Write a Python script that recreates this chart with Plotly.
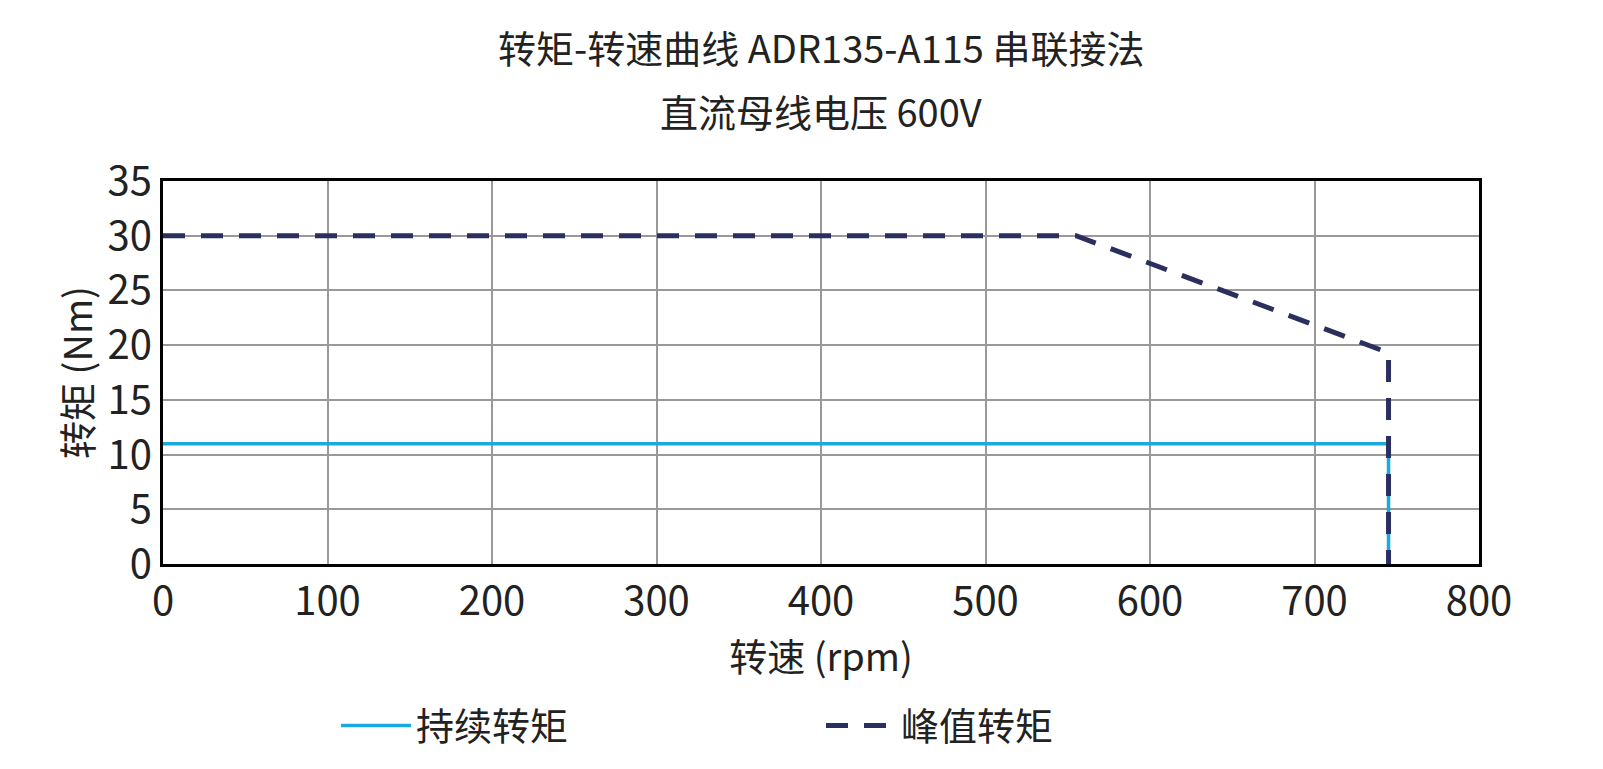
import plotly.graph_objects as go

# data
cont_speed = [0, 745, 745]
cont_torque = [11, 11, 0]
peak_speed = [0, 555, 745, 745]
peak_torque = [30, 30, 19.3, 0]
title_lines = ["转矩-转速曲线 ADR135-A115 串联接法", "直流母线电压 600V"]

FONT = "Noto Sans CJK SC"

fig = go.Figure()
fig.add_trace(go.Scatter(x=cont_speed, y=cont_torque, mode="lines", name="持续转矩",
                         line=dict(color="#1ba9e1", width=3.5)))
fig.add_trace(go.Scatter(x=peak_speed, y=peak_torque, mode="lines", name="峰值转矩",
                         line=dict(color="#2b2f5e", width=5, dash="22px,16px")))

# two title lines as annotations (reference has wide line spacing)
for i, t in enumerate(title_lines):
    fig.add_annotation(text=t, xref="paper", yref="paper", x=0.5, y=1 + (135 - 65 * i) / 383,
                       xanchor="center", yanchor="middle", showarrow=False,
                       font=dict(size=38, family=FONT, color="#222"))

fig.update_layout(
    width=1603, height=769,
    paper_bgcolor="white", plot_bgcolor="white",
    font=dict(family=FONT, color="#222", size=38),
    margin=dict(l=155, r=132, t=173, b=213),
    xaxis=dict(range=[0, 800], dtick=100, showgrid=True, gridcolor="#999", gridwidth=1.5,
               showline=True, linecolor="black", linewidth=3, mirror=True, zeroline=False,
               ticks="", tickfont=dict(size=40),
               title=dict(text="转速 (rpm)", font=dict(size=38), standoff=6)),
    yaxis=dict(range=[0, 35], dtick=5, showgrid=True, gridcolor="#999", gridwidth=1.5,
               showline=True, linecolor="black", linewidth=3, mirror=True, zeroline=False,
               ticks="", tickfont=dict(size=40),
               title=dict(text="转矩 (Nm)", font=dict(size=38), standoff=4)),
    legend=dict(orientation="h", x=0.5, xanchor="center", y=-0.34, yanchor="top",
                font=dict(size=38), entrywidth=400, itemwidth=70),
)

fig.write_html("out.html")
